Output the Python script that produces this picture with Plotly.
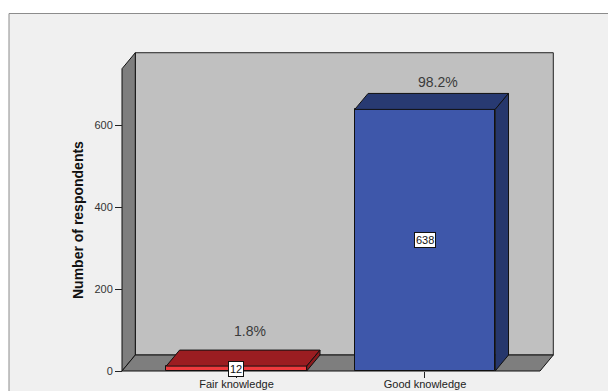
import plotly.graph_objects as go

# ---------------- data ----------------
categories = ["Fair knowledge", "Good knowledge"]
counts = [12, 638]
y_tick_values = [0, 200, 400, 600]
percent_labels = [f"{100 * c / sum(counts):.1f}%" for c in counts]

# ---------------- styles ----------------
front_colors = ["#ee3a3d", "#3e57aa"]
top_colors = ["#9b1d21", "#283a72"]
side_colors = ["#8c1a1d", "#26376c"]
BAR_WIDTH = 0.745
FONT = "Liberation Sans, Arial, sans-serif"

# pseudo-3D depth offset (data units)
DX = 0.0706
DY = 39.0
# wall extents (data units)
XL, XR = -0.6074, 1.6101
WALL_TOP = 776.3

X_RANGE = [-0.6286, 1.7056]
Y_RANGE = [-4.878, 792.68]

fig = go.Figure()

# bar fronts
fig.add_trace(go.Bar(
    x=list(range(len(categories))), y=counts, width=BAR_WIDTH,
    marker=dict(color=front_colors, line=dict(color="#111111", width=1)),
    hoverinfo="skip", showlegend=False,
))

# bar tops and right sides
for i, v in enumerate(counts):
    l, r = i - BAR_WIDTH / 2, i + BAR_WIDTH / 2
    fig.add_trace(go.Scatter(
        x=[l, l + DX, r + DX, r, l], y=[v, v + DY, v + DY, v, v],
        fill="toself", fillcolor=top_colors[i], mode="lines",
        line=dict(color="#111111", width=1), hoverinfo="skip", showlegend=False,
    ))
    fig.add_trace(go.Scatter(
        x=[r, r + DX, r + DX, r, r], y=[0, DY, v + DY, v, 0],
        fill="toself", fillcolor=side_colors[i], mode="lines",
        line=dict(color="#111111", width=1), hoverinfo="skip", showlegend=False,
    ))

shapes = []
# outer frame (paper)
W_PLOT, H_PLOT, L_M, B_PIX = 440.0, 327.0, 118.0, 373.0
shapes.append(dict(
    type="rect", xref="paper", yref="paper", layer="below",
    x0=(9 - L_M) / W_PLOT, x1=(640 - L_M) / W_PLOT,
    y0=(B_PIX - 420) / H_PLOT, y1=(B_PIX - 13.5) / H_PLOT,
    fillcolor="#f0f0f0", line=dict(color="#8c8c8c", width=1),
))
# back wall
shapes.append(dict(
    type="rect", xref="x", yref="y", layer="below",
    x0=XL + DX, x1=XR + DX, y0=DY, y1=WALL_TOP,
    fillcolor="#c0c0c0", line=dict(color="#222222", width=1),
))
# left wall
shapes.append(dict(
    type="path", xref="x", yref="y", layer="below",
    path=f"M {XL},0 L {XL + DX},{DY} L {XL + DX},{WALL_TOP} L {XL},{WALL_TOP - DY} Z",
    fillcolor="#7e7e7e", line=dict(color="#111111", width=1),
))
# floor
shapes.append(dict(
    type="path", xref="x", yref="y", layer="below",
    path=f"M {XL},0 L {XR},0 L {XR + DX},{DY} L {XL + DX},{DY} Z",
    fillcolor="#7e7e7e", line=dict(color="#111111", width=1),
))

annotations = []
pct_shift = [19, 11]
for i, v in enumerate(counts):
    annotations.append(dict(
        x=i, y=v / 2, xref="x", yref="y", text=str(v), showarrow=False,
        bgcolor="white", bordercolor="#111111", borderwidth=1, borderpad=1,
        font=dict(family=FONT, size=11, color="#111111"),
    ))
    annotations.append(dict(
        x=i + DX, y=v + DY, xref="x", yref="y", text=percent_labels[i],
        showarrow=False, yanchor="middle", yshift=pct_shift[i],
        font=dict(family=FONT, size=14, color="#3a3a3a"),
    ))
annotations.append(dict(
    x=(78 - L_M) / W_PLOT, y=(B_PIX - 220) / H_PLOT, xref="paper", yref="paper",
    xanchor="center", yanchor="middle",
    text="<b>Number of respondents</b>", textangle=-90, showarrow=False,
    font=dict(family=FONT, size=14, color="#111111"),
))

fig.update_layout(
    template="none",
    width=608, height=391, autosize=False,
    margin=dict(l=118, r=50, t=46, b=18, pad=0, autoexpand=False),
    paper_bgcolor="white", plot_bgcolor="rgba(0,0,0,0)",
    shapes=shapes, annotations=annotations, showlegend=False,
    bargap=0,
    xaxis=dict(
        range=X_RANGE, tickvals=list(range(len(categories))), ticktext=categories,
        anchor="free", position=(B_PIX - 371) / H_PLOT, automargin=False,
        ticks="outside", ticklen=6, tickcolor="#222222", tickwidth=1,
        ticklabelstandoff=-3,
        showline=False, showgrid=False, zeroline=False,
        tickfont=dict(family=FONT, size=11, color="#222222"),
    ),
    yaxis=dict(
        range=Y_RANGE, tickvals=y_tick_values,
        anchor="free", position=(122 - L_M) / W_PLOT, automargin=False,
        ticks="outside", ticklen=7, tickcolor="#222222", tickwidth=1,
        showline=False, showgrid=False, zeroline=False,
        tickfont=dict(family=FONT, size=11, color="#333333"),
    ),
)

fig.write_html("out.html")
